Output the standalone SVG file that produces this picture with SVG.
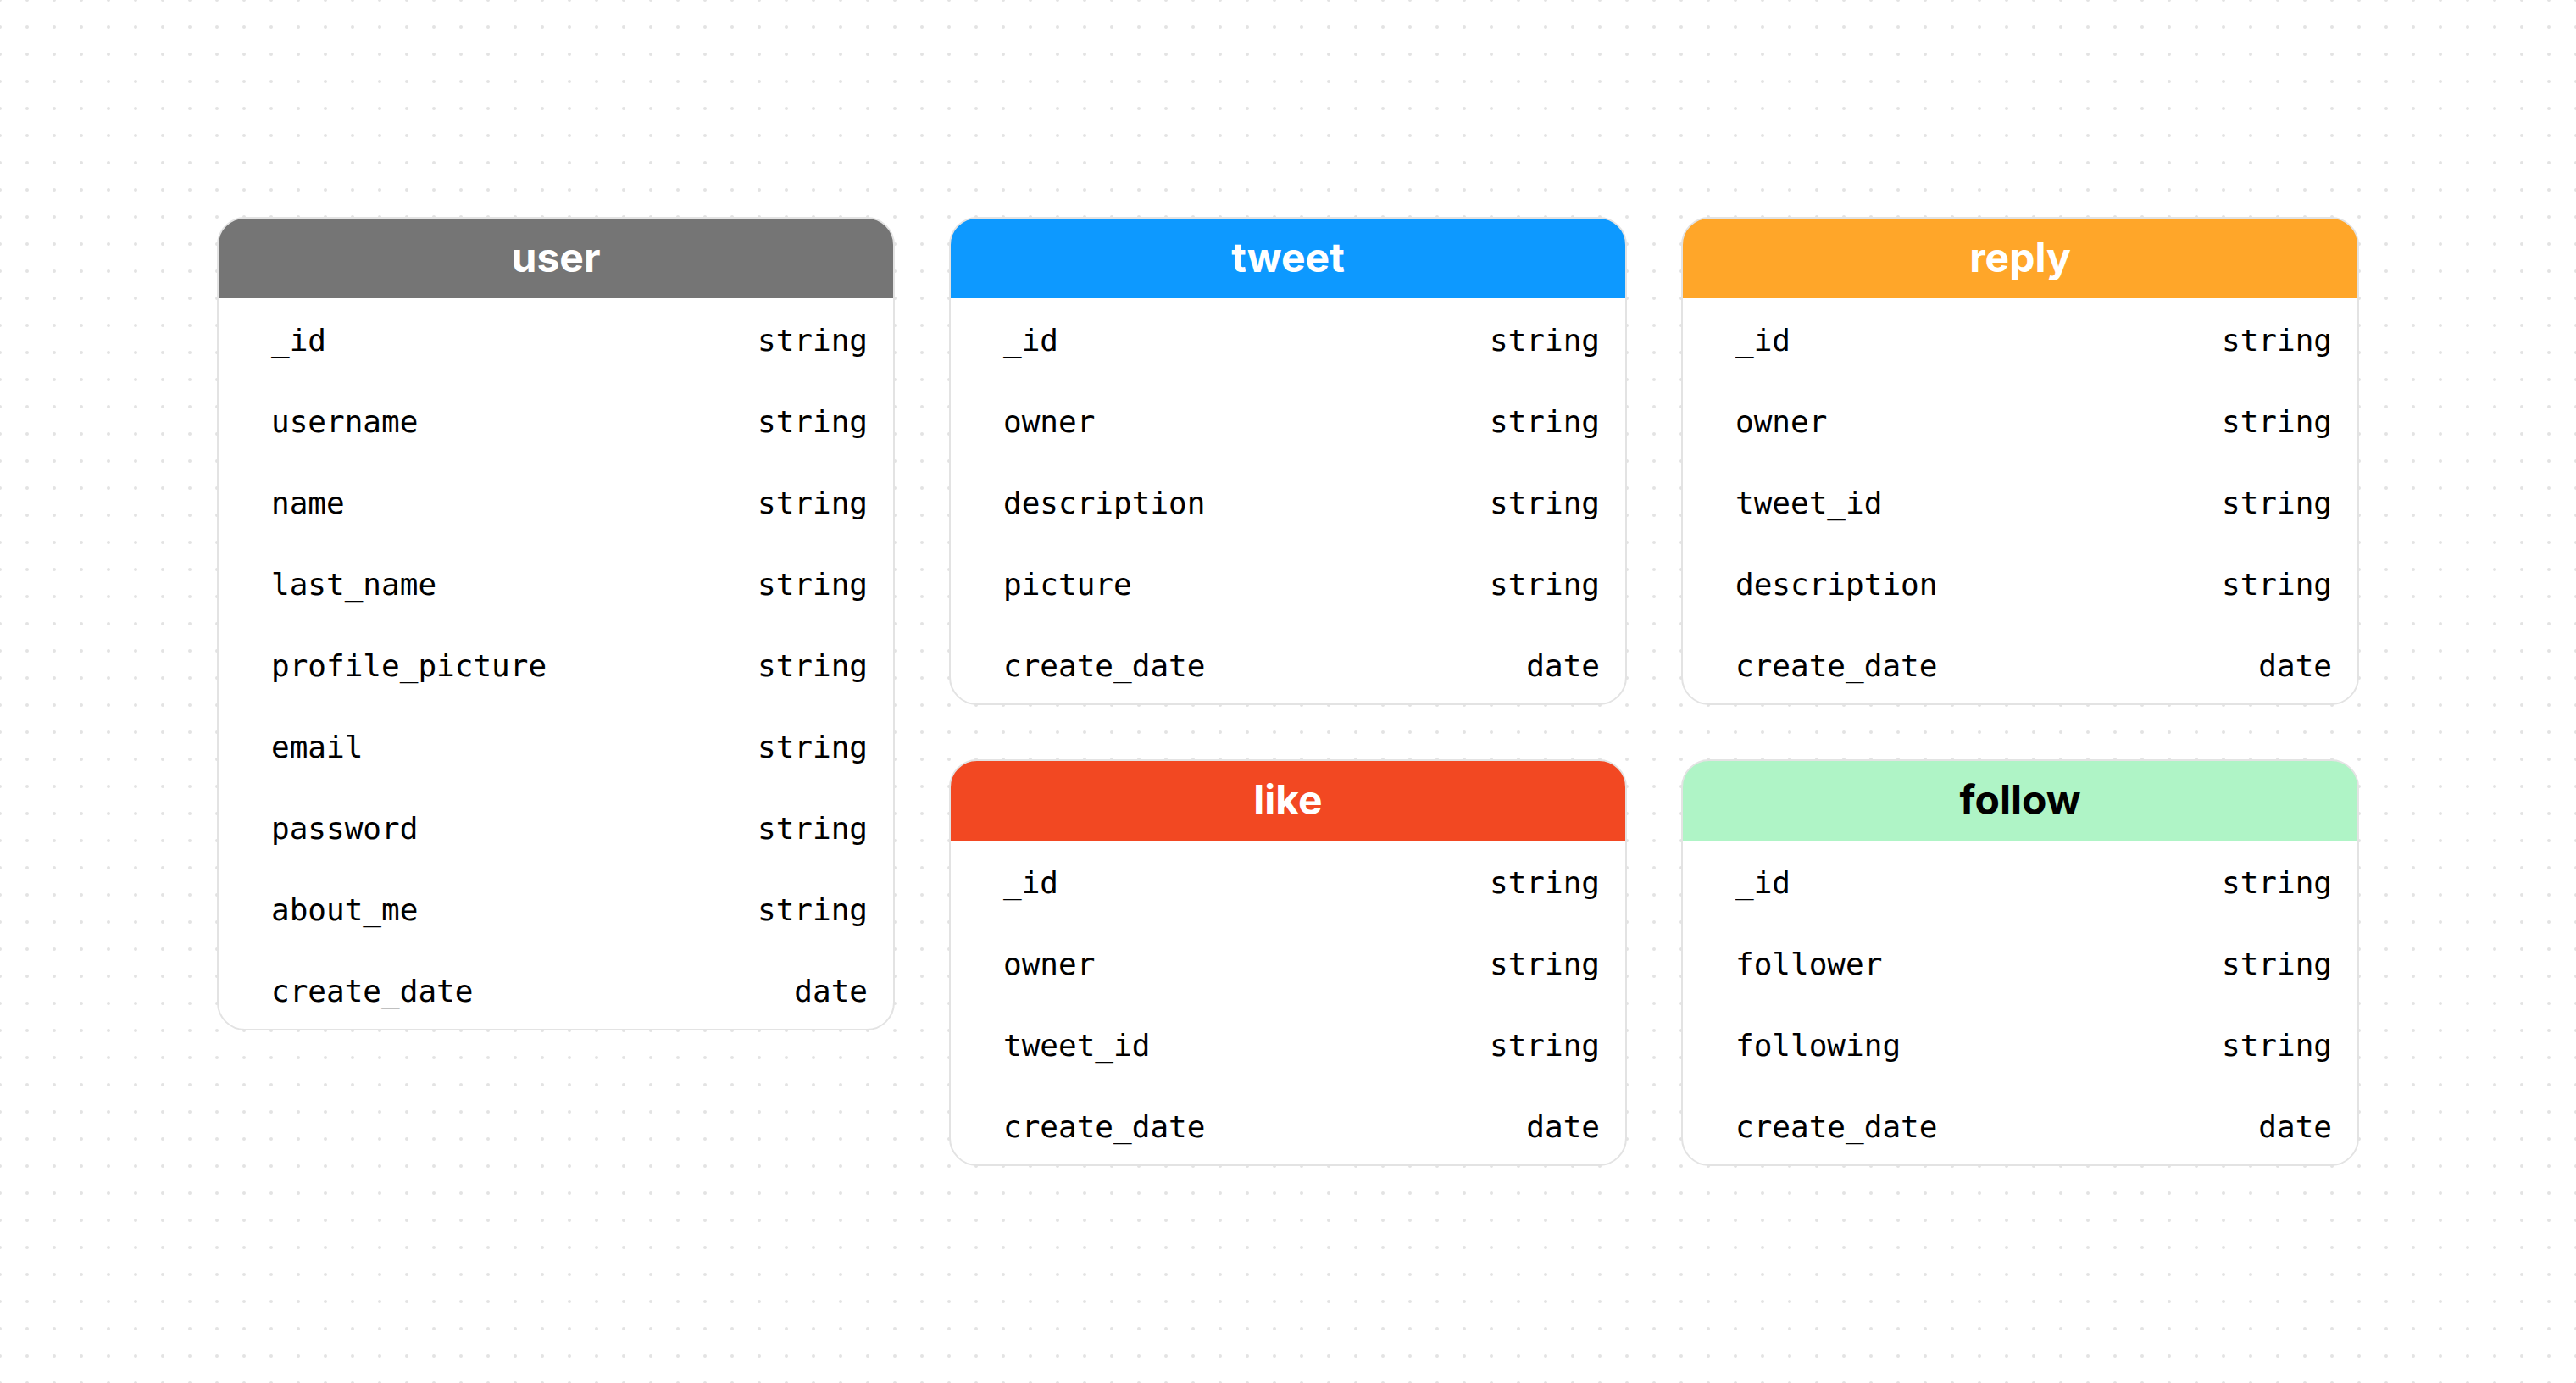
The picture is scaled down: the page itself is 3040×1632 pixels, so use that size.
<svg xmlns="http://www.w3.org/2000/svg" width="3040" height="1632" viewBox="0 0 3040 1632">
<defs>
<pattern id="dots" x="0" y="0" width="32" height="32" patternUnits="userSpaceOnUse">
<circle cx="0" cy="0" r="2" fill="#e3e3e3"/><circle cx="32" cy="0" r="2" fill="#e3e3e3"/><circle cx="0" cy="32" r="2" fill="#e3e3e3"/><circle cx="32" cy="32" r="2" fill="#e3e3e3"/>
</pattern>
<style>
.body{fill:#ffffff;}
.frame{fill:none;stroke:#e3e3e3;stroke-width:2;}
.title{font-family:Inter,"Liberation Sans",sans-serif;font-weight:700;font-size:48px;text-anchor:middle;fill:#ffffff;}
.dark{fill:#000000;}
.f{font-family:"DejaVu Sans Mono","Liberation Mono",monospace;font-size:36px;fill:#000000;}
.t{font-family:"DejaVu Sans Mono","Liberation Mono",monospace;font-size:36px;fill:#000000;text-anchor:end;}
</style>
</defs>
<rect width="3040" height="1632" fill="#ffffff"/>
<rect width="3040" height="1632" fill="url(#dots)"/>

<g id="user">
<rect class="body" x="257" y="257" width="798" height="958" rx="32"/>
<path d="M257,352 V289 A32,32 0 0 1 289,257 H1023 A32,32 0 0 1 1055,289 V352 Z" fill="#757575"/>
<rect class="frame" x="257" y="257" width="798" height="958" rx="32"/>
<text class="title" x="656" y="321">user</text>
<text class="f" x="320" y="414">_id</text><text class="t" x="1024" y="414">string</text>
<text class="f" x="320" y="510">username</text><text class="t" x="1024" y="510">string</text>
<text class="f" x="320" y="606">name</text><text class="t" x="1024" y="606">string</text>
<text class="f" x="320" y="702">last_name</text><text class="t" x="1024" y="702">string</text>
<text class="f" x="320" y="798">profile_picture</text><text class="t" x="1024" y="798">string</text>
<text class="f" x="320" y="894">email</text><text class="t" x="1024" y="894">string</text>
<text class="f" x="320" y="990">password</text><text class="t" x="1024" y="990">string</text>
<text class="f" x="320" y="1086">about_me</text><text class="t" x="1024" y="1086">string</text>
<text class="f" x="320" y="1182">create_date</text><text class="t" x="1024" y="1182">date</text>
</g>

<g id="tweet">
<rect class="body" x="1121" y="257" width="798" height="574" rx="32"/>
<path d="M1121,352 V289 A32,32 0 0 1 1153,257 H1887 A32,32 0 0 1 1919,289 V352 Z" fill="#0d99ff"/>
<rect class="frame" x="1121" y="257" width="798" height="574" rx="32"/>
<text class="title" x="1520" y="321">tweet</text>
<text class="f" x="1184" y="414">_id</text><text class="t" x="1888" y="414">string</text>
<text class="f" x="1184" y="510">owner</text><text class="t" x="1888" y="510">string</text>
<text class="f" x="1184" y="606">description</text><text class="t" x="1888" y="606">string</text>
<text class="f" x="1184" y="702">picture</text><text class="t" x="1888" y="702">string</text>
<text class="f" x="1184" y="798">create_date</text><text class="t" x="1888" y="798">date</text>
</g>

<g id="reply">
<rect class="body" x="1985" y="257" width="798" height="574" rx="32"/>
<path d="M1985,352 V289 A32,32 0 0 1 2017,257 H2751 A32,32 0 0 1 2783,289 V352 Z" fill="#ffa629"/>
<rect class="frame" x="1985" y="257" width="798" height="574" rx="32"/>
<text class="title" x="2384" y="321">reply</text>
<text class="f" x="2048" y="414">_id</text><text class="t" x="2752" y="414">string</text>
<text class="f" x="2048" y="510">owner</text><text class="t" x="2752" y="510">string</text>
<text class="f" x="2048" y="606">tweet_id</text><text class="t" x="2752" y="606">string</text>
<text class="f" x="2048" y="702">description</text><text class="t" x="2752" y="702">string</text>
<text class="f" x="2048" y="798">create_date</text><text class="t" x="2752" y="798">date</text>
</g>

<g id="like">
<rect class="body" x="1121" y="897" width="798" height="478" rx="32"/>
<path d="M1121,992 V929 A32,32 0 0 1 1153,897 H1887 A32,32 0 0 1 1919,929 V992 Z" fill="#f24822"/>
<rect class="frame" x="1121" y="897" width="798" height="478" rx="32"/>
<text class="title" x="1520" y="961">like</text>
<text class="f" x="1184" y="1054">_id</text><text class="t" x="1888" y="1054">string</text>
<text class="f" x="1184" y="1150">owner</text><text class="t" x="1888" y="1150">string</text>
<text class="f" x="1184" y="1246">tweet_id</text><text class="t" x="1888" y="1246">string</text>
<text class="f" x="1184" y="1342">create_date</text><text class="t" x="1888" y="1342">date</text>
</g>

<g id="follow">
<rect class="body" x="1985" y="897" width="798" height="478" rx="32"/>
<path d="M1985,992 V929 A32,32 0 0 1 2017,897 H2751 A32,32 0 0 1 2783,929 V992 Z" fill="#aff4c6"/>
<rect class="frame" x="1985" y="897" width="798" height="478" rx="32"/>
<text class="title dark" x="2384" y="961">follow</text>
<text class="f" x="2048" y="1054">_id</text><text class="t" x="2752" y="1054">string</text>
<text class="f" x="2048" y="1150">follower</text><text class="t" x="2752" y="1150">string</text>
<text class="f" x="2048" y="1246">following</text><text class="t" x="2752" y="1246">string</text>
<text class="f" x="2048" y="1342">create_date</text><text class="t" x="2752" y="1342">date</text>
</g>

<g id="connectors"></g>
</svg>
